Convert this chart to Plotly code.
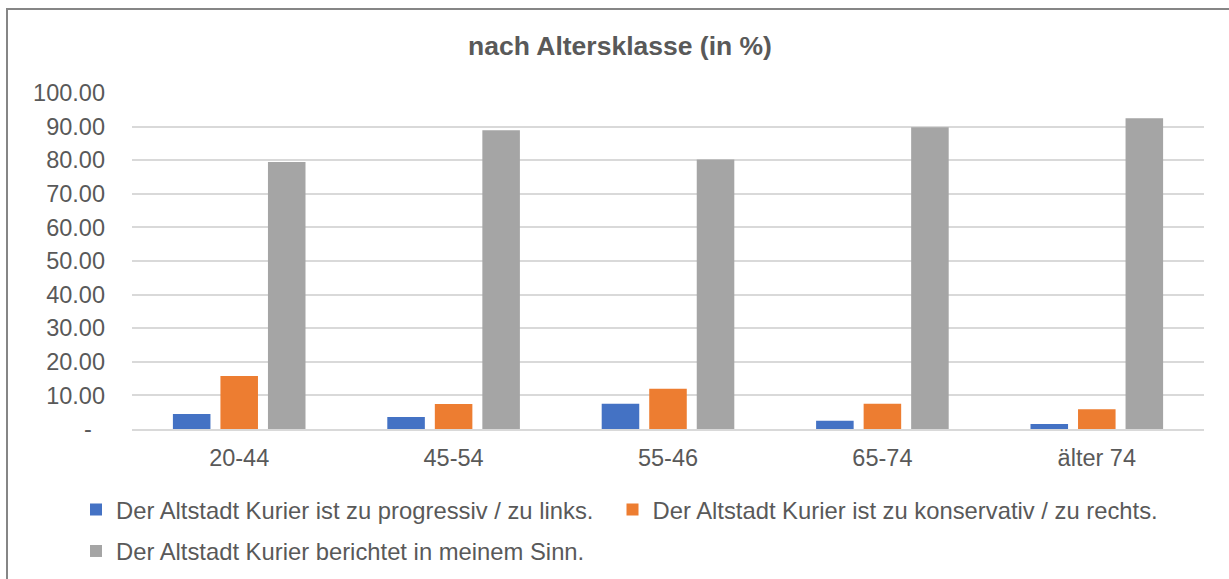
import plotly.graph_objects as go

categories = ["20-44", "45-54", "55-46", "65-74", "älter 74"]
progressiv = [4.46, 3.57, 7.53, 2.48, 1.49]
konservativ = [15.76, 7.43, 12.0, 7.53, 5.85]
sinn = [79.5, 88.9, 80.2, 89.8, 92.5]

series_names = [
    "Der Altstadt Kurier ist zu progressiv / zu links.",
    "Der Altstadt Kurier ist zu konservativ / zu rechts.",
    "Der Altstadt Kurier berichtet in meinem Sinn.",
]
series_colors = ["#4472C4", "#ED7D31", "#A5A5A5"]

y_tickvals = [0, 10, 20, 30, 40, 50, 60, 70, 80, 90, 100]
y_ticktext = ["-\u00a0\u00a0", "10.00", "20.00", "30.00", "40.00", "50.00",
              "60.00", "70.00", "80.00", "90.00", "100.00"]

W, H = 1229, 579
L, R, T, B = 132, 25, 93, 150
pw, ph = W - L - R, H - T - B

def px_x(x):
    return (x - L) / pw

def px_y(y):
    return (H - B - y) / ph

FONT = "Liberation Sans, Arial, sans-serif"
TXT = "#595959"

fig = go.Figure()
legends = ["legend", "legend2", "legend3"]
for name, vals, col, lg in zip(series_names, [progressiv, konservativ, sinn], series_colors, legends):
    fig.add_trace(go.Bar(x=categories, y=vals, name=name, marker_color=col,
                         marker_line_width=0, legend=lg, showlegend=True))

leg_common = dict(orientation="h", xanchor="left", yanchor="middle", itemclick=False,
                  xref="container", yref="container",
                  font=dict(size=23.8, color=TXT), bgcolor="rgba(0,0,0,0)")

fig.update_layout(
    width=W, height=H,
    margin=dict(l=L, r=R, t=T, b=B, autoexpand=False),
    paper_bgcolor="white", plot_bgcolor="white",
    font=dict(family=FONT, size=23.5, color=TXT),
    showlegend=True,
    barmode="group", bargap=0.335, bargroupgap=0.21,
    title=dict(text="<b>nach Altersklasse (in %)</b>", x=620 / W, xref="container", xanchor="center",
               y=1 - 46 / H, yref="container", yanchor="middle",
               font=dict(family=FONT, size=26.5, color=TXT)),
    xaxis=dict(showgrid=False, showline=True, linecolor="#D9D9D9", linewidth=1.5,
               ticks="", ticklabelstandoff=7, automargin=False,
               tickfont=dict(size=23.5, color=TXT)),
    yaxis=dict(range=[0, 100], tickvals=y_tickvals, ticktext=y_ticktext,
               showgrid=True, gridcolor="#D9D9D9", gridwidth=1.5, zeroline=False,
               showline=False, ticks="", ticklabelstandoff=26, automargin=False,
               tickfont=dict(size=23.5, color=TXT)),
    legend=dict(x=76 / W, y=1 - 509.5 / H, **leg_common),
    legend2=dict(x=612.5 / W, y=1 - 509.5 / H, **leg_common),
    legend3=dict(x=76 / W, y=1 - 551 / H, **leg_common),
    shapes=[dict(type="rect", xref="paper", yref="paper",
                 x0=px_x(7), x1=px_x(W + 20), y0=px_y(H + 20), y1=px_y(9),
                 line=dict(color="#868686", width=2), fillcolor="rgba(0,0,0,0)", layer="below")],
)

fig.write_html("out.html", config={"displayModeBar": False},
               post_script="document.body.style.margin='0';")
